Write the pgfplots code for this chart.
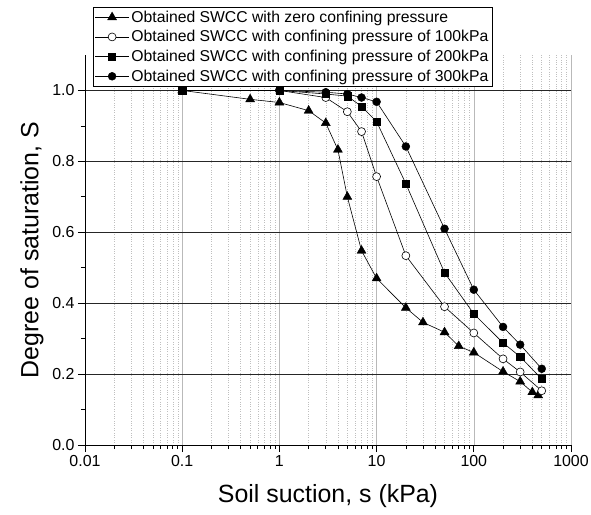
\documentclass[border=0pt]{standalone}
\usepackage{pgfplots}
\pgfplotsset{compat=1.18}
\usepackage{fontspec}
\setmainfont{Liberation Sans}

\begin{document}
\begin{tikzpicture}[x=1bp,y=1bp]
\useasboundingbox (-85bp,-70bp) rectangle (506bp,445bp);
\begin{axis}[
  at={(0,0)}, anchor=south west,
  scale only axis,
  width=486bp, height=390bp,
  xmode=log,
  xmin=0.01, xmax=1000,
  ymin=0, ymax=1.1,
  axis lines=left,
  axis line style={black, line width=0.8pt, -},
  xtick={0.01,0.1,1,10,100,1000},
  xticklabels={0.01,0.1,1,10,100,1000},
  minor xtick={0.02,0.03,0.04,0.05,0.06,0.07,0.08,0.09,
               0.2,0.3,0.4,0.5,0.6,0.7,0.8,0.9,
               2,3,4,5,6,7,8,9,
               20,30,40,50,60,70,80,90,
               200,300,400,500,600,700,800,900},
  ytick={0,0.2,0.4,0.6,0.8,1.0},
  minor ytick={0.1,0.3,0.5,0.7,0.9},
  yticklabel style={/pgf/number format/.cd, fixed, fixed zerofill, precision=1},
  /pgf/number format/assume math mode=true,
  tick align=outside,
  major tick length=7bp,
  minor tick length=4bp,
  tick style={black, line width=0.7pt},
  grid=both,
  major x grid style={gray!55, line width=0.6pt},
  major y grid style={black!85, line width=0.6pt},
  minor x grid style={gray!50, dotted, line width=0.5pt},
  minor y grid style={draw=none},
  ticklabel style={font=\fontsize{16}{18}\selectfont},
  xlabel={Soil suction, s (kPa)},
  ylabel={Degree of saturation, S},
  label style={font=\fontsize{25}{28}\selectfont},
  xlabel style={at={(axis description cs:0.5,-0.131)}, anchor=center},
  ylabel style={at={(axis description cs:-0.109,0.5)}, anchor=center, rotate=0},
  every axis plot/.append style={black, line width=0.6pt},
  legend style={
    at={(rel axis cs:0.0165,1.123)}, anchor=north west,
    draw=black, line width=0.6pt, fill=white,
    font=\fontsize{15.8}{19}\selectfont,
    inner sep=1.5pt, row sep=2.8pt,
    cells={anchor=west},
  },
  legend image code/.code={
    \draw[mark repeat=2, mark phase=2] plot coordinates {(0bp,0bp) (17bp,0bp) (34bp,0bp)};
  },
  clip=false,
]

% Zero confining pressure
\addplot[mark=triangle*, mark size=5.2pt, mark options={fill=black, line width=0.4pt}] coordinates {
  (0.1,1.0) (0.5,0.975) (1,0.966) (2,0.943) (3,0.908) (4,0.833) (5,0.700)
  (7,0.548) (10,0.470) (20,0.387) (30,0.346) (50,0.318) (70,0.279)
  (100,0.261) (200,0.207) (300,0.179) (400,0.149) (460,0.140)
};
\addlegendentry{Obtained SWCC with zero confining pressure}

% Confining pressure 100 kPa
\addplot[mark=*, mark size=4pt, mark options={fill=white, line width=0.6pt}] coordinates {
  (0.1,1.0) (1,1.0) (3,0.980) (5,0.940) (7,0.884) (10,0.757) (20,0.534)
  (50,0.390) (100,0.316) (200,0.243) (300,0.206) (500,0.153)
};
\addlegendentry{Obtained SWCC with confining pressure of 100kPa}

% Confining pressure 200 kPa
\addplot[mark=square*, mark size=3.6pt, mark options={fill=black, line width=0.4pt}] coordinates {
  (0.1,1.0) (1,1.0) (3,0.990) (5,0.984) (7,0.955) (10,0.912) (20,0.737)
  (50,0.486) (100,0.370) (200,0.288) (300,0.249) (500,0.186)
};
\addlegendentry{Obtained SWCC with confining pressure of 200kPa}

% Confining pressure 300 kPa
\addplot[mark=*, mark size=4pt, mark options={fill=black, line width=0.4pt}] coordinates {
  (0.1,1.0) (1,1.0) (3,0.995) (5,0.990) (7,0.980) (10,0.968) (20,0.842)
  (50,0.610) (100,0.438) (200,0.333) (300,0.283) (500,0.215)
};
\addlegendentry{Obtained SWCC with confining pressure of 300kPa}

\end{axis}
\end{tikzpicture}
\end{document}
